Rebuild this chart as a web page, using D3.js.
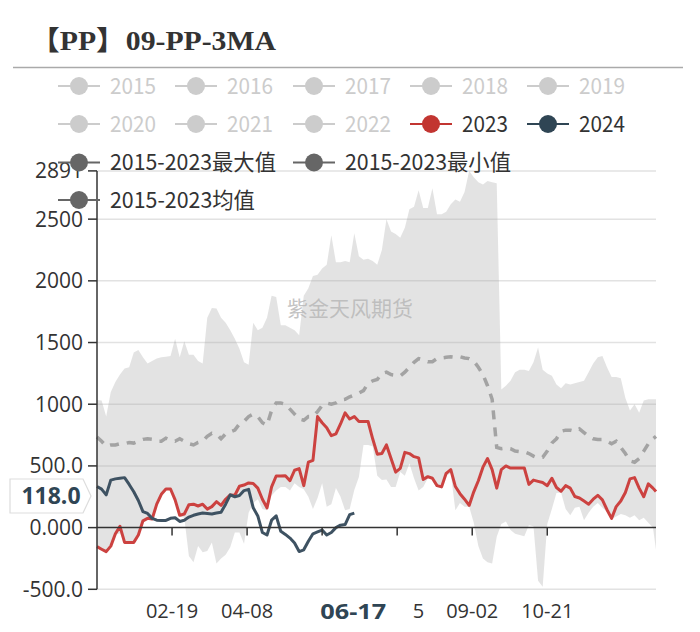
<!DOCTYPE html>
<html><head><meta charset="utf-8">
<script src="https://cdn.jsdelivr.net/npm/d3@7"></script>
<style>body{margin:0;background:#fff}svg{display:block}</style>
</head><body><svg id="c" width="700" height="632"></svg>
<script>
// ---- data ----
const titleText = "【PP】09-PP-3MA";
const watermark = "紫金天风期货";
// sampled calendar days (every 3rd day of the year, plus Dec 31)
const sampleDays = d3.range(0, 364, 3).concat([365]);
const yTickValues = [2891, 2500, 2000, 1500, 1000, 500, 0, -500];
const yTickLabels = ["2891", "2500", "2000", "1500", "1000", "500.0", "0.000", "-500.0"];
const xTickLabels = ["02-19", "04-08", "05-27", "07-15", "09-02", "10-21"];
// what remains visible of each tick label next to the axis-pointer label
const xTickShown = ["02-19", "04-08", "", "5", "09-02", "10-21"];
const pointerDate = "06-17";
const pointerValueLabel = "118.0";

const legendRows = [
  ["2015", "2016", "2017", "2018", "2019"],
  ["2020", "2021", "2022", "2023", "2024"],
  ["2015-2023最大值", null, "2015-2023最小值"],
  ["2015-2023均值"]
];

const maxVals = [1035,1030,900,1100,1180,1240,1290,1300,1420,1440,1380,1330,1350,1370,1380,1385,1390,1530,1380,1510,1400,1400,1350,1330,1700,1780,1775,1700,1660,1600,1530,1450,1340,1320,1660,1600,1620,1700,1880,1870,1640,1640,1620,1600,1560,1880,1940,2040,2050,2100,2130,2370,2150,2150,2160,2150,2385,2200,2170,2180,2160,2130,2250,2500,2400,2380,2350,2430,2580,2600,2735,2590,2590,2750,2540,2540,2560,2620,2660,2640,2720,2891,2840,2800,2780,2810,2800,2790,1120,1150,1190,1260,1280,1280,1270,1340,1460,1280,1250,1230,1160,1130,1170,1160,1170,1180,1190,1260,1330,1380,1390,1300,1220,1220,1210,1050,950,1000,930,1030,1040,1040,1040];
const minVals = [-160,-180,-205,-160,-60,-45,-125,-125,-125,-70,45,65,60,180,260,305,305,215,90,80,-230,-280,-150,-200,-190,-120,-290,-250,-220,-160,-40,-40,-130,120,200,230,150,140,260,300,330,330,300,360,330,310,250,150,240,360,170,190,320,250,140,150,305,410,670,670,660,420,385,390,330,330,450,420,520,400,300,330,400,390,330,320,420,440,140,200,170,170,40,-150,-250,-280,-290,-75,30,50,-20,-50,-60,-70,20,10,-430,-480,30,150,280,285,150,100,160,170,60,120,170,200,160,130,70,90,110,100,80,100,60,80,40,0,-180];
const meanVals = [735,700,660,670,670,680,680,690,685,700,715,720,715,700,700,725,710,700,720,700,680,670,690,700,740,765,760,720,760,775,790,840,860,900,920,900,850,830,950,1010,1010,1000,960,920,880,870,900,900,940,990,1010,1000,1010,1035,1040,1060,1075,1090,1110,1170,1190,1200,1250,1260,1240,1235,1230,1260,1300,1340,1370,1360,1345,1345,1370,1375,1380,1385,1380,1385,1375,1370,1350,1300,1240,1150,1040,650,640,645,640,620,615,615,600,580,565,570,620,685,720,780,790,790,780,800,770,740,720,715,715,700,680,700,650,600,540,530,560,620,680,720,740];
const vals2023 = [-154,-175,-195,-150,-50,10,-120,-120,-120,-60,55,75,70,190,270,313,313,225,100,110,185,190,175,190,150,170,210,180,230,265,262,335,345,362,358,320,230,160,330,418,418,420,380,465,478,340,530,545,900,850,810,745,760,840,930,880,900,860,860,860,720,595,600,670,560,450,480,610,600,575,565,390,413,400,340,330,440,470,333,275,230,180,290,380,490,560,470,320,470,500,483,483,483,483,350,385,375,365,340,400,325,295,340,320,252,240,215,190,230,262,225,145,75,170,215,285,395,405,320,250,355,320,292];
const vals2024 = [333,312,265,385,395,400,405,350,290,220,130,115,75,60,58,58,75,80,50,60,85,100,110,118,115,110,118,125,190,265,250,260,300,310,160,95,-40,-60,60,95,-30,-55,-85,-125,-194,-180,-110,-50,-35,-20,-60,-40,0,20,25,105,118];

// ---- setup ----
const svg = d3.select("#c");
const start = new Date(2024, 0, 1);
const dates = sampleDays.map(d => d3.timeDay.offset(start, d));
const parseMD = s => d3.timeParse("%Y-%m-%d")("2024-" + s);

const L = 97, R = 656;
const x = d3.scaleTime().domain([start, new Date(2024, 11, 31)]).range([L, R]);
const y = d3.scaleLinear().domain([-500, 2891]).range([589.3, 170.9]);

const FONT = "'Open Sans', 'Noto Sans CJK SC', sans-serif";
const CJK = "'Noto Sans CJK SC', 'Noto Sans', sans-serif";

// title
svg.append("text").attr("x", 30).attr("y", 50)
  .attr("font-family", "'Liberation Serif', 'Noto Sans CJK SC', serif")
  .attr("font-weight", "bold").attr("font-size", 27).attr("fill", "#333")
  .attr("textLength", 246).attr("lengthAdjust", "spacingAndGlyphs")
  .text(titleText);
svg.append("line").attr("x1", 13).attr("x2", 683).attr("y1", 67.5).attr("y2", 67.5)
  .attr("stroke", "#aaa").attr("stroke-width", 1.6);

// grid
const grid = svg.append("g");
grid.selectAll("line").data(yTickValues.filter(v => v !== 0)).join("line")
  .attr("x1", L).attr("x2", R).attr("y1", d => y(d)).attr("y2", d => y(d))
  .attr("stroke", "#e2e2e2").attr("stroke-width", 1.5);

// band
const idx = d3.range(dates.length);
const band = d3.area().x(i => x(dates[i])).y0(i => y(minVals[i])).y1(i => y(maxVals[i]));
svg.append("path").attr("d", band(idx)).attr("fill", "#a9a9a9").attr("fill-opacity", 0.33);

// watermark
svg.append("text").attr("x", 350).attr("y", 316).attr("text-anchor", "middle")
  .attr("font-family", CJK).attr("font-size", 21).attr("fill", "#b8b8b8").attr("fill-opacity", 0.85)
  .text(watermark);

// mean, 2023, 2024
const lineOf = arr => d3.line().x((v, i) => x(dates[i])).y(v => y(v))(arr);
svg.append("path").attr("d", lineOf(meanVals)).attr("fill", "none")
  .attr("stroke", "#a3a3a3").attr("stroke-width", 3.5).attr("stroke-dasharray", "9,8");
svg.append("path").attr("d", lineOf(vals2023)).attr("fill", "none")
  .attr("stroke", "#cc4240").attr("stroke-width", 3).attr("stroke-linejoin", "round");
svg.append("path").attr("d", lineOf(vals2024)).attr("fill", "none")
  .attr("stroke", "#3e5262").attr("stroke-width", 3).attr("stroke-linejoin", "round");

// y axis
const yAxis = svg.append("g");
yAxis.append("line").attr("x1", L).attr("x2", L).attr("y1", y(2891)).attr("y2", y(-500))
  .attr("stroke", "#333").attr("stroke-width", 1.5);
yAxis.selectAll("line.t").data(yTickValues).join("line").attr("class", "t")
  .attr("x1", 88).attr("x2", L).attr("y1", d => y(d)).attr("y2", d => y(d))
  .attr("stroke", "#333").attr("stroke-width", 1.5);
yAxis.selectAll("text").data(yTickValues).join("text")
  .attr("x", 83).attr("y", d => y(d) + 7.5).attr("text-anchor", "end")
  .attr("font-family", FONT).attr("font-size", 21).attr("fill", "#333")
  .text((d, i) => yTickLabels[i]);

// x axis
const xAxis = svg.append("g");
xAxis.append("line").attr("x1", L).attr("x2", R).attr("y1", y(0)).attr("y2", y(0))
  .attr("stroke", "#333").attr("stroke-width", 1.5);
xAxis.selectAll("line.t").data(xTickLabels).join("line").attr("class", "t")
  .attr("x1", d => x(parseMD(d))).attr("x2", d => x(parseMD(d)))
  .attr("y1", y(0)).attr("y2", y(0) + 8).attr("stroke", "#333").attr("stroke-width", 1.5);
xAxis.selectAll("text").data(xTickLabels.map((d, i) => ({d, s: xTickShown[i]})).filter(o => o.s))
  .join("text")
  .attr("x", o => o.s === o.d ? x(parseMD(o.d)) : x(parseMD(o.d)) + 27)
  .attr("y", 618).attr("text-anchor", o => o.s === o.d ? "middle" : "end")
  .attr("font-family", FONT).attr("font-size", 20).attr("fill", "#333").text(o => o.s);

// pointer labels
const px = x(parseMD(pointerDate));
svg.append("rect").attr("x", px - 48).attr("y", 596).attr("width", 102).attr("height", 34).attr("fill", "#fff");
svg.append("text").attr("x", px - 1).attr("y", 619).attr("text-anchor", "middle")
  .attr("font-family", FONT).attr("font-weight", "bold").attr("font-size", 22).attr("fill", "#2f4554")
  .attr("textLength", 66).attr("lengthAdjust", "spacingAndGlyphs").text(pointerDate);
svg.append("path").attr("d", "M10,479H83L91,496L83,513H10Z").attr("fill", "#fff")
  .attr("stroke", "#ddd").attr("stroke-width", 1.2);
svg.append("text").attr("x", 51).attr("y", 504).attr("text-anchor", "middle")
  .attr("font-family", FONT).attr("font-weight", "bold").attr("font-size", 23).attr("fill", "#2f4554")
  .text(pointerValueLabel);

// legend
const colX = [79, 196, 314, 431, 548];
const rowY = [86, 124, 162.5, 200];
const legColor = name => name === "2023" ? "#c23531" : name === "2024" ? "#2f4554"
  : name.includes("2015-2023") ? "#666" : "#ccc";
const textLen = name => name.length <= 4 ? 46 : name.includes("均") ? 145 : 166;
const leg = svg.append("g");
legendRows.forEach((row, r) => {
  row.forEach((name, c) => {
    if (!name) return;
    const cx = colX[c], cy = rowY[r], col = legColor(name);
    const g = leg.append("g");
    g.append("line").attr("x1", cx - 21).attr("x2", cx + 21).attr("y1", cy).attr("y2", cy)
      .attr("stroke", col).attr("stroke-width", 2);
    g.append("circle").attr("cx", cx).attr("cy", cy).attr("r", 9).attr("fill", col);
    g.append("text").attr("x", cx + 31).attr("y", cy + 7.5)
      .attr("font-family", CJK).attr("font-size", 22)
      .attr("fill", col === "#ccc" ? "#ccc" : "#333")
      .attr("textLength", textLen(name)).attr("lengthAdjust", "spacingAndGlyphs")
      .text(name);
  });
});
</script></body></html>
